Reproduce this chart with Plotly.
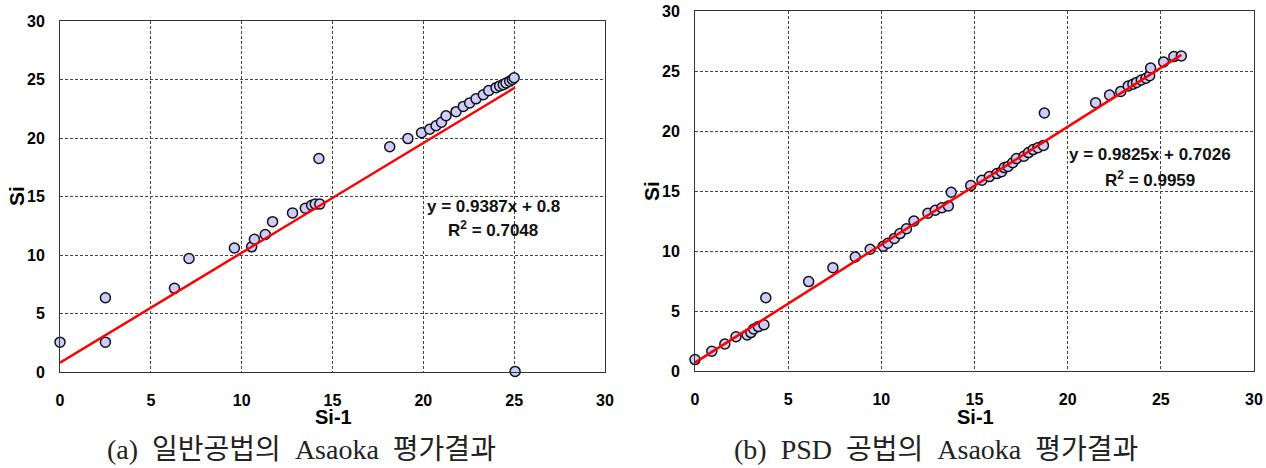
import plotly.graph_objects as go

# ---------------- data ----------------
# (a) conventional method
a_x = [0, 2.5, 2.5, 6.3, 7.1, 9.6, 10.55, 10.7, 11.3, 11.7, 12.8, 13.5, 13.85, 14.05,
       14.25, 14.3, 18.15, 19.15, 19.9, 20.35, 20.7, 21.0, 21.25, 21.8, 22.2, 22.55,
       22.9, 23.3, 23.6, 24.0, 24.2, 24.4, 24.55, 24.75, 24.9, 25.0, 25.05]
a_y = [2.55, 6.35, 2.55, 7.15, 9.7, 10.6, 10.7, 11.35, 11.75, 12.85, 13.6, 14.0, 14.25, 14.35,
       18.25, 14.35, 19.25, 19.95, 20.45, 20.75, 21.05, 21.35, 21.9, 22.25, 22.7, 23.0,
       23.35, 23.7, 24.05, 24.3, 24.45, 24.55, 24.7, 24.85, 25.0, 25.15, 0.05]
a_slope, a_intercept, a_r2 = 0.9387, 0.8, 0.7048

# (b) PSD method
b_x = [0, 0.9, 1.6, 2.2, 2.8, 3.0, 3.15, 3.4, 3.7, 3.8, 6.1, 7.4, 8.6, 9.4, 10.1, 10.35,
       10.7, 11.0, 11.35, 11.75, 12.5, 12.9, 13.25, 13.6, 13.75, 14.8, 15.4, 15.8, 16.2,
       16.45, 16.6, 16.8, 17.05, 17.25, 17.65, 17.9, 18.15, 18.4, 18.7, 18.75, 21.5,
       22.25, 22.85, 23.25, 23.5, 23.7, 23.95, 24.2, 24.4, 24.45, 25.15, 25.7, 26.1]
b_y = [0.95, 1.65, 2.25, 2.85, 3.0, 3.2, 3.5, 3.7, 3.85, 6.1, 7.45, 8.6, 9.5, 10.15, 10.4,
       10.65, 11.05, 11.45, 11.85, 12.5, 13.15, 13.4, 13.6, 13.75, 14.9, 15.45, 15.9, 16.2,
       16.45, 16.6, 16.95, 17.05, 17.35, 17.7, 17.9, 18.2, 18.45, 18.6, 18.8, 21.5, 22.35,
       23.0, 23.3, 23.75, 23.9, 24.05, 24.25, 24.4, 24.6, 25.25, 25.75, 26.2, 26.25]
b_slope, b_intercept, b_r2 = 0.9825, 0.7026, 0.9959

tick_vals = [0, 5, 10, 15, 20, 25, 30]
tick_text = ["0", "5", "10", "15", "20", "25", "30"]
x_title = "Si-1"
y_title = "Si"
caption_a = "(a)  일반공법의  Asaoka  평가결과"
caption_b = "(b)  PSD  공법의  Asaoka  평가결과"

# ---------------- figure ----------------
W, H = 1266, 468
fig = go.Figure()

marker = dict(size=10, color="#ccccff", line=dict(color="#111111", width=1.5))

def add_panel(xs, ys, slope, intercept, xa, ya):
    fig.add_trace(go.Scatter(x=xs, y=ys, mode="markers", marker=marker,
                             xaxis=xa, yaxis=ya, cliponaxis=False, showlegend=False))
    x0, x1 = min(xs), max(xs)
    fig.add_trace(go.Scatter(x=[x0, x1], y=[slope * x0 + intercept, slope * x1 + intercept],
                             mode="lines", line=dict(color="#ff0000", width=2.5),
                             xaxis=xa, yaxis=ya, cliponaxis=False, showlegend=False))

add_panel(a_x, a_y, a_slope, a_intercept, "x", "y")
add_panel(b_x, b_y, b_slope, b_intercept, "x2", "y2")

tickfont = dict(family="Liberation Sans, Arial", size=16, color="black")
bold_ticks = ["<b>%s</b>" % t for t in tick_text]
grid = dict(showgrid=True, gridcolor="#444444", gridwidth=1, griddash="3px,2px",
            showline=True, linecolor="#333333", linewidth=1, mirror=True,
            zeroline=False, ticks="outside", tickcolor="rgba(0,0,0,0)",
            tickfont=tickfont, range=[0, 30], automargin=False,
            tickvals=tick_vals, ticktext=bold_ticks, fixedrange=True)

def px_x(p):
    return p / W

def px_y(p):
    return 1 - p / H

fig.update_layout(
    width=W, height=H,
    margin=dict(l=0, r=0, t=0, b=0),
    paper_bgcolor="white", plot_bgcolor="white",
    xaxis=dict(domain=[px_x(60), px_x(605)], anchor="y", ticklen=14, **grid),
    yaxis=dict(domain=[px_y(372), px_y(21)], anchor="x", ticklen=11, **grid),
    xaxis2=dict(domain=[px_x(695), px_x(1254)], anchor="y2", ticklen=14, **grid),
    yaxis2=dict(domain=[px_y(371), px_y(11)], anchor="x2", ticklen=11, **grid),
)

bold = "Liberation Sans, Arial"
ann = []
def text(x, y, s, size, family=bold, angle=0, color="black"):
    ann.append(dict(x=px_x(x), y=px_y(y), xref="paper", yref="paper", text=s,
                    showarrow=False, font=dict(family=family, size=size, color=color),
                    textangle=angle, xanchor="center", yanchor="middle"))

# axis titles
text(333, 417, "<b>%s</b>" % x_title, 20)
text(975, 417, "<b>%s</b>" % x_title, 20)
text(16, 196, "<b>%s</b>" % y_title, 21, angle=-90)
text(651, 191, "<b>%s</b>" % y_title, 21, angle=-90)

# regression equations
text(493, 206, "<b>y = %.4fx + %s</b>" % (a_slope, ("%g" % a_intercept)), 17, color="#111111")
text(493, 229, "<b>R<sup>2</sup> = %.4f</b>" % a_r2, 17, color="#111111")
text(1150, 155, "<b>y = %.4fx + %.4f</b>" % (b_slope, b_intercept), 17, color="#111111")
text(1150, 179, "<b>R<sup>2</sup> = %.4f</b>" % b_r2, 17, color="#111111")

# captions
serif = "Liberation Serif, Noto Sans CJK KR"
text(301, 449, caption_a, 28, family=serif, color="#222222")
text(936, 449, caption_b, 28, family=serif, color="#222222")

fig.update_layout(annotations=ann)
fig.write_html("out.html", config={"displayModeBar": False},
               post_script="document.body.style.margin='0';document.body.style.overflow='hidden';")
